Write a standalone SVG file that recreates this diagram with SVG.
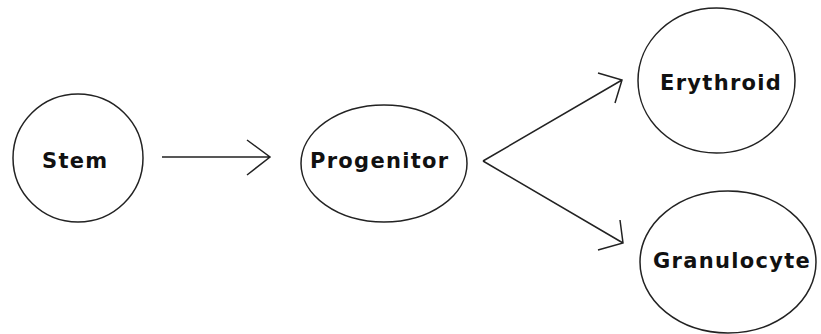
<svg xmlns="http://www.w3.org/2000/svg" width="821" height="334" viewBox="0 0 821 334">
<style>
.node{fill:#fff;stroke:#222;stroke-width:1.5}
.lbl{font-family:"DejaVu Sans",sans-serif;font-weight:bold;font-size:21px;letter-spacing:1.3px;fill:#111}
.edge{fill:none;stroke:#222;stroke-width:1.5}
</style>
<rect width="821" height="334" fill="#fff"/>
<g id="stem"><ellipse class="node" cx="78" cy="158" rx="65" ry="64"/><text class="lbl" x="42" y="168">Stem</text></g>
<g id="progenitor"><ellipse class="node" cx="384" cy="163.5" rx="83" ry="58.5"/><text class="lbl" x="310" y="168">Progenitor</text></g>
<g id="erythroid"><ellipse class="node" cx="716.5" cy="80.5" rx="78.5" ry="72.5"/><text class="lbl" x="660" y="90">Erythroid</text></g>
<g id="granulocyte"><ellipse class="node" cx="728" cy="262" rx="88" ry="71"/><text class="lbl" x="653" y="268">Granulocyte</text></g>
<g id="connectors">
<path class="edge" d="M162 157 L270 157 M247 140 L270 157 L247 175"/>
<path class="edge" d="M483 161 L622 80 M598 73 L622 80 L615 103"/>
<path class="edge" d="M483 161 L623 243 M620 220 L623 243 L598 250"/>
</g>
</svg>
